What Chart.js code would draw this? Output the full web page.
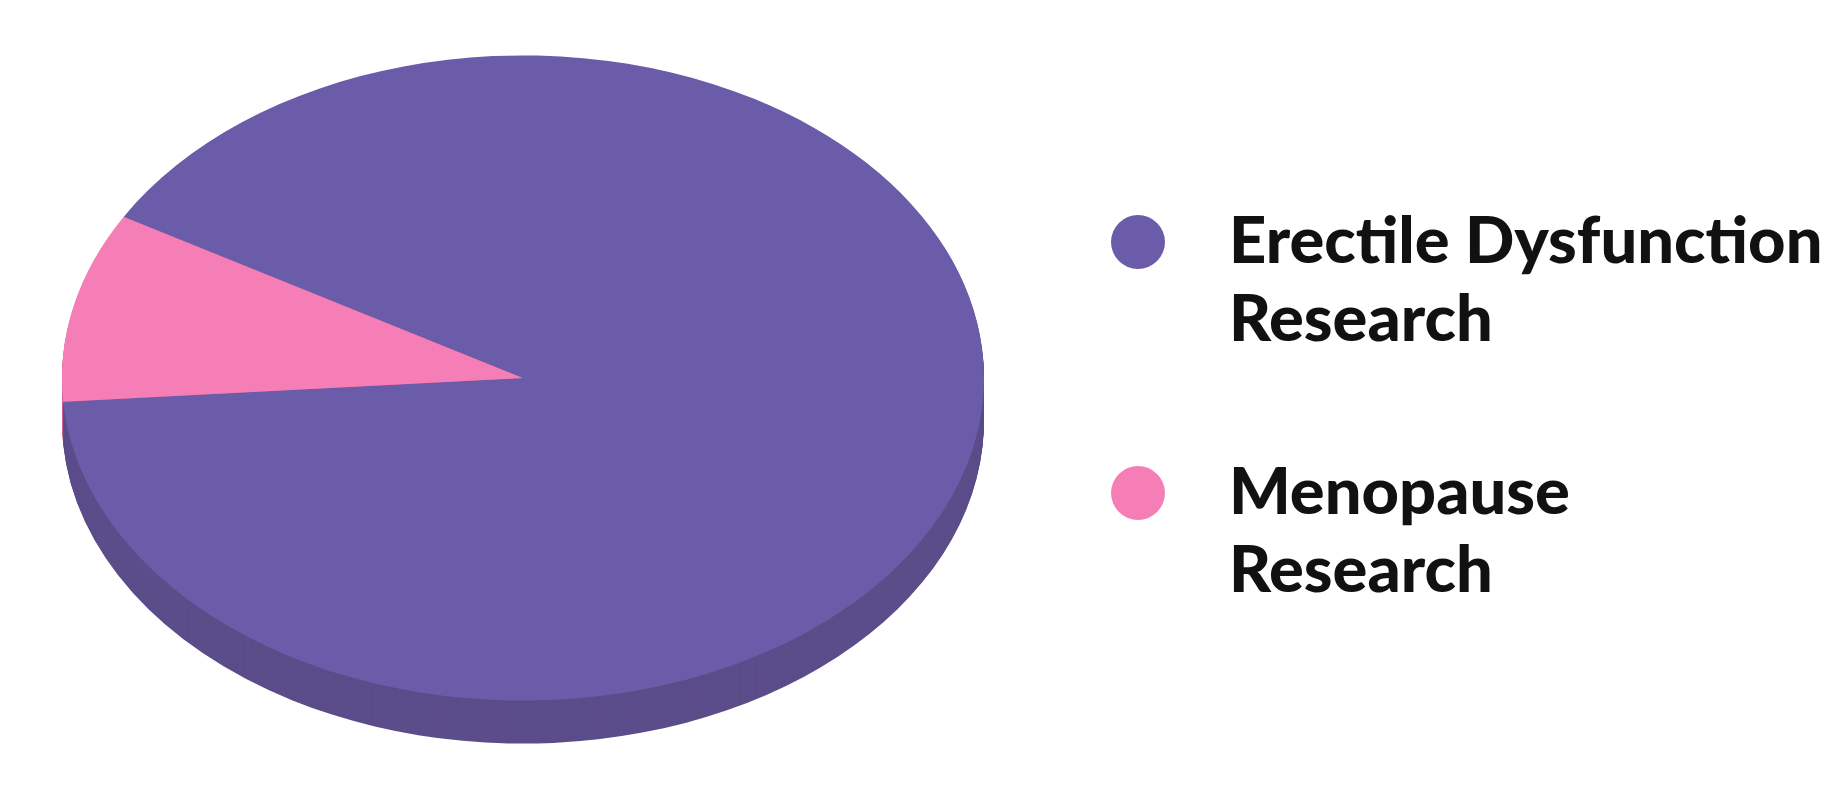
<!DOCTYPE html>
<html lang="en">
<head>
  <meta charset="utf-8" />
  <title>Research funding</title>
  <style>
body { margin: 0; background: #fff; }
#chartContainer { width: 1828px; height: 799px; position: relative; }
  </style>
</head>
<body>
  <div id="chartContainer">
    <canvas id="myChart"></canvas>
  </div>
  <script src="https://cdn.jsdelivr.net/npm/chart.js"></script>
  <script>
// data
const labels = [['Erectile Dysfunction', 'Research'], ['Menopause', 'Research']];
const shares = [90.5, 9.5];
const topColors = ['#6a5ca9', '#f57eb6'];
const sideColors = ['#5b4d8a', '#c9679a'];

// where the flattened pie sits on the page
const CX = 523, CY = 378, RX = 461, RY = 322.6, DEPTH = 43;

function pieTransform(ctx, arc, dy) {
  ctx.translate(CX, CY + dy);
  ctx.scale(RX / arc.outerRadius, RY / arc.outerRadius);
  ctx.translate(-arc.x, -arc.y);
}

const flatPie = {
  id: 'flatPie',
  beforeDatasetsDraw(chart) {
    const ctx = chart.ctx;
    const arcs = chart.getDatasetMeta(0).data;
    // side wall: stack shifted copies of each slice
    for (let d = DEPTH; d >= 1; d--) {
      arcs.forEach((arc, i) => {
        ctx.save();
        pieTransform(ctx, arc, d);
        ctx.beginPath();
        ctx.moveTo(arc.x, arc.y);
        ctx.arc(arc.x, arc.y, arc.outerRadius, arc.startAngle, arc.endAngle);
        ctx.closePath();
        ctx.fillStyle = sideColors[i];
        ctx.fill();
        ctx.restore();
      });
    }
    ctx.save();
    pieTransform(ctx, arcs[0], 0);
  },
  afterDatasetsDraw(chart) {
    chart.ctx.restore();
  },
  afterDraw(chart) {
    // legend on the right
    const ctx = chart.ctx;
    ctx.save();
    ctx.font = '900 65px Lato';
    ctx.textBaseline = 'alphabetic';
    labels.forEach((lines, i) => {
      const top = 215 + i * 251;
      ctx.beginPath();
      ctx.arc(1138, top + 27, 27, 0, Math.PI * 2);
      ctx.fillStyle = topColors[i];
      ctx.fill();
      ctx.fillStyle = '#111';
      lines.forEach((line, j) => {
        ctx.fillText(line, 1229, top + 48 + j * 78);
      });
    });
    ctx.restore();
  }
};

const ctx = document.getElementById('myChart');
new Chart(ctx, {
  type: 'pie',
  data: {
    labels: labels,
    datasets: [{
      data: shares,
      backgroundColor: topColors,
      borderWidth: 0,
      clip: false
    }]
  },
  options: {
    responsive: true,
    maintainAspectRatio: false,
    animation: false,
    rotation: 300,
    layout: { padding: { left: 200, top: 55, right: 982, bottom: 98 } },
    plugins: {
      legend: { display: false },
      tooltip: { enabled: false }
    }
  },
  plugins: [flatPie]
});
  </script>
</body>
</html>
